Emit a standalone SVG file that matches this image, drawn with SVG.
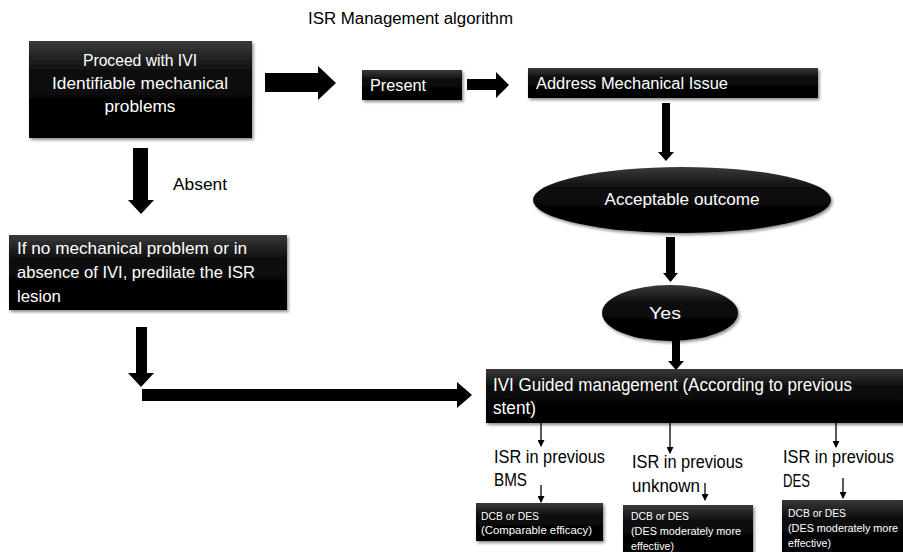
<svg xmlns="http://www.w3.org/2000/svg" width="903" height="552" viewBox="0 0 903 552">
<style>
text{font-family:"Liberation Sans",Arial,sans-serif;}
.w{fill:#fff;}
.b{fill:#000;}
.t16{font-size:16px;}
.t17{font-size:16.5px;}
.t18{font-size:18px;}
.t10{font-size:10px;}
.box{fill:url(#g);filter:url(#sh);}
.blk{fill:#000;}
.thin{stroke:#000;stroke-width:1.3;fill:none;marker-end:url(#ah);}
</style>
<defs>
<linearGradient id="g" x1="0" y1="0" x2="0" y2="1">
<stop offset="0" stop-color="#3a3a3a"/>
<stop offset="0.35" stop-color="#0a0a0a"/>
<stop offset="1" stop-color="#000"/>
</linearGradient>
<filter id="sh" x="-5%" y="-10%" width="115%" height="130%">
<feDropShadow dx="1.5" dy="2" stdDeviation="1.5" flood-color="#000" flood-opacity="0.45"/>
</filter>
<marker id="ah" markerWidth="7" markerHeight="7" refX="6" refY="3.5" orient="auto" markerUnits="userSpaceOnUse">
<path d="M0,0 L7,3.5 L0,7 Z" fill="#000"/>
</marker>
</defs>
<rect width="903" height="552" fill="#fff"/>
<text x="308" y="24" class="t16 b" textLength="205" lengthAdjust="spacingAndGlyphs">ISR Management algorithm</text>

<g id="connectors">
<polygon class="blk" points="265,73 318,73 318,66 336,83 318,100 318,92 265,92"/>
<polygon class="blk" points="467,79 496,79 496,72 509,85 496,98 496,90 467,90"/>
<polygon class="blk" points="662,103 670,103 670,152 674,152 666,161 658,152 662,152"/>
<polygon class="blk" points="666,237 675,237 675,273 678,273 670.5,282 663,273 666,273"/>
<polygon class="blk" points="672,340 680,340 680,361 684,361 676,370 668,361 672,361"/>
<polygon class="blk" points="133,148 148,148 148,200 154,200 141,214 128,200 133,200"/>
<polygon class="blk" points="136,327 147,327 147,373 154,373 141,387 128,373 136,373"/>
<polygon class="blk" points="142,389 457,389 457,382 472,395 457,408 457,401 142,401"/>
<line class="thin" x1="541" y1="423" x2="541" y2="446"/>
<line class="thin" x1="670" y1="423" x2="670" y2="453"/>
<line class="thin" x1="836" y1="423" x2="836" y2="447"/>
<line class="thin" x1="541" y1="485" x2="541" y2="502"/>
<line class="thin" x1="705" y1="483" x2="705" y2="500"/>
<line class="thin" x1="843" y1="478" x2="843" y2="498"/>
</g>

<g id="n-proceed">
<rect class="box" x="29" y="41" width="223" height="97"/>
<text x="140" y="66" class="t17 w" text-anchor="middle" textLength="114" lengthAdjust="spacingAndGlyphs">Proceed with IVI</text>
<text x="140" y="89" class="t17 w" text-anchor="middle" textLength="176" lengthAdjust="spacingAndGlyphs">Identifiable mechanical</text>
<text x="140" y="112" class="t17 w" text-anchor="middle" textLength="71" lengthAdjust="spacingAndGlyphs">problems</text>
</g>

<g id="n-present">
<rect class="box" x="362" y="70" width="100" height="30"/>
<text x="370" y="91" class="t16 w" textLength="56" lengthAdjust="spacingAndGlyphs">Present</text>
</g>

<g id="n-address">
<rect class="box" x="528" y="68" width="290" height="30"/>
<text x="536" y="89" class="t16 w" textLength="192" lengthAdjust="spacingAndGlyphs">Address Mechanical Issue</text>
</g>

<g id="n-absent">
<text x="173" y="190" class="t16 b" textLength="54" lengthAdjust="spacingAndGlyphs">Absent</text>
</g>

<g id="n-acceptable">
<ellipse cx="682" cy="200" rx="149" ry="33" class="box"/>
<text x="682" y="205" class="t16 w" text-anchor="middle" textLength="155" lengthAdjust="spacingAndGlyphs">Acceptable outcome</text>
</g>

<g id="n-predilate">
<rect class="box" x="9" y="235" width="278" height="75"/>
<text x="17" y="254" class="t17 w" textLength="230" lengthAdjust="spacingAndGlyphs">If no mechanical problem or in</text>
<text x="17" y="278" class="t17 w" textLength="238" lengthAdjust="spacingAndGlyphs">absence of IVI, predilate the ISR</text>
<text x="17" y="302" class="t17 w" textLength="44" lengthAdjust="spacingAndGlyphs">lesion</text>
</g>

<g id="n-yes">
<ellipse cx="670" cy="313" rx="68" ry="28" class="box"/>
<text x="665" y="319" class="t16 w" text-anchor="middle" textLength="32" lengthAdjust="spacingAndGlyphs">Yes</text>
</g>

<g id="n-ivi">
<rect class="box" x="486" y="369" width="420" height="54"/>
<text x="493" y="391" class="t18 w" textLength="359" lengthAdjust="spacingAndGlyphs">IVI Guided management (According to previous</text>
<text x="493" y="414" class="t18 w" textLength="43" lengthAdjust="spacingAndGlyphs">stent)</text>
</g>

<g id="n-bms">
<text x="494" y="463" class="t18 b" textLength="111" lengthAdjust="spacingAndGlyphs">ISR in previous</text>
<text x="494" y="486" class="t18 b" textLength="33" lengthAdjust="spacingAndGlyphs">BMS</text>
</g>
<g id="n-unknown">
<text x="632" y="468" class="t18 b" textLength="111" lengthAdjust="spacingAndGlyphs">ISR in previous</text>
<text x="632" y="492" class="t18 b" textLength="68" lengthAdjust="spacingAndGlyphs">unknown</text>
</g>
<g id="n-des">
<text x="783" y="463" class="t18 b" textLength="111" lengthAdjust="spacingAndGlyphs">ISR in previous</text>
<text x="783" y="487" class="t18 b" textLength="27" lengthAdjust="spacingAndGlyphs">DES</text>
</g>

<g id="n-bms-tx">
<rect class="box" x="476" y="503" width="127" height="38"/>
<text x="481" y="520" class="t10 w" textLength="58" lengthAdjust="spacingAndGlyphs">DCB or DES</text>
<text x="481" y="534" class="t10 w" textLength="111" lengthAdjust="spacingAndGlyphs">(Comparable efficacy)</text>
</g>
<g id="n-unknown-tx">
<rect class="box" x="623" y="505" width="130" height="50"/>
<text x="631" y="520" class="t10 w" textLength="58" lengthAdjust="spacingAndGlyphs">DCB or DES</text>
<text x="631" y="535" class="t10 w" textLength="110" lengthAdjust="spacingAndGlyphs">(DES moderately more</text>
<text x="631" y="550" class="t10 w" textLength="43" lengthAdjust="spacingAndGlyphs">effective)</text>
</g>
<g id="n-des-tx">
<rect class="box" x="782" y="500" width="125" height="55"/>
<text x="788" y="517" class="t10 w" textLength="58" lengthAdjust="spacingAndGlyphs">DCB or DES</text>
<text x="788" y="532" class="t10 w" textLength="110" lengthAdjust="spacingAndGlyphs">(DES moderately more</text>
<text x="788" y="547" class="t10 w" textLength="43" lengthAdjust="spacingAndGlyphs">effective)</text>
</g>
</svg>
